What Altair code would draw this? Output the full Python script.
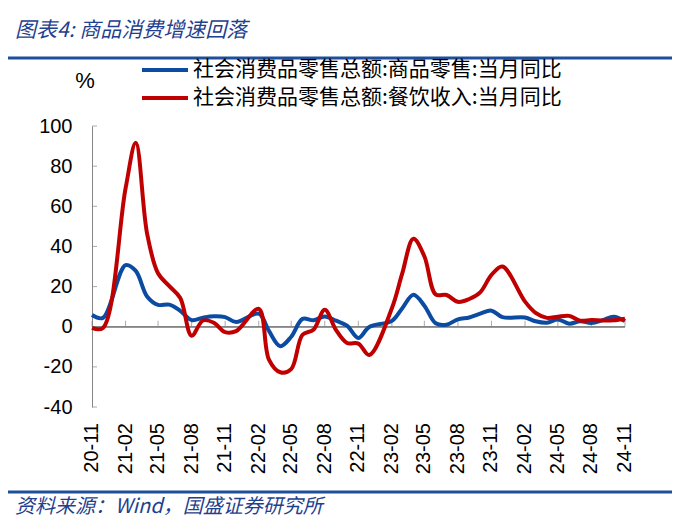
import altair as alt
import pandas as pd

# ---------------- data ----------------
months = [
    "2020-11", "2020-12",
    "2021-02", "2021-03", "2021-04", "2021-05", "2021-06", "2021-07", "2021-08", "2021-09", "2021-10", "2021-11", "2021-12",
    "2022-02", "2022-03", "2022-04", "2022-05", "2022-06", "2022-07", "2022-08", "2022-09", "2022-10", "2022-11", "2022-12",
    "2023-02", "2023-03", "2023-04", "2023-05", "2023-06", "2023-07", "2023-08", "2023-09", "2023-10", "2023-11", "2023-12",
    "2024-02", "2024-03", "2024-04", "2024-05", "2024-06", "2024-07", "2024-08", "2024-09", "2024-10", "2024-11",
]
goods = [
    5.8, 4.4,
    30.7, 27.8, 15.1, 10.9, 11.0, 7.9, 3.3, 4.5, 5.2, 4.8, 2.3,
    6.5, -2.1, -9.7, -5.0, 3.9, 3.2, 5.1, 3.0, 0.5, -5.6, -0.1,
    2.9, 9.1, 15.9, 10.5, 1.7, 1.0, 3.7, 4.6, 6.5, 8.0, 4.8,
    4.6, 2.7, 2.0, 3.6, 1.5, 2.7, 1.9, 3.3, 5.0, 2.8,
]
catering = [
    -0.6, -0.6,
    68.9, 91.6, 46.4, 26.6, 20.2, 14.3, -4.5, 3.1, 2.0, -2.7, -2.2,
    8.9, -16.4, -22.7, -21.1, -4.0, -1.5, 8.4, -1.7, -8.1, -8.4, -14.1,
    9.2, 26.3, 43.8, 35.1, 16.1, 15.8, 12.4, 13.8, 17.1, 25.8, 30.0,
    12.5, 6.9, 4.4, 5.0, 5.4, 3.0, 3.3, 3.1, 3.2, 4.0,
]
series_names = ["社会消费品零售总额:商品零售:当月同比", "社会消费品零售总额:餐饮收入:当月同比"]
series_colors = ["#0B4CA2", "#C00000"]
x_tick_labels = ["20-11", "21-02", "21-05", "21-08", "21-11", "22-02", "22-05", "22-08", "22-11",
                 "23-02", "23-05", "23-08", "23-11", "24-02", "24-05", "24-08", "24-11"]
y_ticks = [-40, -20, 0, 20, 40, 60, 80, 100]
title_text = "图表4:  商品消费增速回落"
source_text = "资料来源：Wind，国盛证券研究所"
unit_text = "%"

# ---------------- tables ----------------
dates = pd.to_datetime(months, format="%Y-%m")
df = pd.concat([
    pd.DataFrame({"date": dates, "series": series_names[0], "value": goods}),
    pd.DataFrame({"date": dates, "series": series_names[1], "value": catering}),
])

def to_dt(lbl):
    y, m = lbl.split("-")
    return alt.DateTime(year=2000 + int(y), month=int(m), date=1)

tick_df = pd.DataFrame({
    "date": pd.to_datetime(["20" + l for l in x_tick_labels], format="%Y-%m"),
    "label": x_tick_labels,
})
ytick_df = pd.DataFrame({"v": y_ticks})

W, H = 533, 281
GRAY = "#868686"
NAVY = "#1F3F8F"
LINEBLUE = "#1F4E9B"
AX_FONT = "Liberation Sans"
CJK = "Noto Sans CJK SC"

x_scale = alt.Scale(domain=[to_dt(x_tick_labels[0]), to_dt(x_tick_labels[-1])], nice=False)
y_scale = alt.Scale(domain=[y_ticks[0], y_ticks[-1]], nice=False, zero=False)
y_axis = alt.Axis(values=y_ticks, domainColor=GRAY, domainWidth=1, ticks=False, tickSize=0,
                  labelPadding=20, grid=False, title=None, labelFont=AX_FONT,
                  labelFontSize=20, labelColor="#000000",
                  labelExpr="toString(datum.value)")

lines = alt.Chart(df).mark_line(strokeWidth=4, interpolate="catmull-rom").encode(
    x=alt.X("date:T", scale=x_scale, axis=None),
    y=alt.Y("value:Q", scale=y_scale, axis=y_axis),
    color=alt.Color("series:N", scale=alt.Scale(domain=series_names, range=series_colors), legend=None),
)

zero_line = alt.Chart(ytick_df).mark_rule(color=GRAY, strokeWidth=1).encode(
    y=alt.datum(0), x=alt.value(0), x2=alt.value(W)
)
x_ticks = alt.Chart(tick_df).mark_tick(orient="vertical", size=6, thickness=1, yOffset=-3, color=GRAY).encode(
    x=alt.X("date:T", scale=x_scale, axis=None), y=alt.datum(0)
)
x_labels = alt.Chart(tick_df).mark_text(angle=270, align="right", baseline="middle", font=AX_FONT,
                                        fontSize=20, color="#000000").encode(
    x=alt.X("date:T", scale=x_scale, axis=None), y=alt.value(H + 16), text="label:N"
)
y_tick_marks = alt.Chart(ytick_df).mark_tick(orient="horizontal", size=5, thickness=1, xOffset=2.5, color=GRAY).encode(
    y=alt.Y("v:Q", scale=y_scale, axis=y_axis), x=alt.value(0)
)

def text_layer(txt, x, y, **kw):
    return alt.Chart(pd.DataFrame({"t": [txt]})).mark_text(**kw).encode(
        text="t:N", x=alt.value(x), y=alt.value(y)
    )

def rule_layer(x, x2, y, color, width):
    return alt.Chart(pd.DataFrame({"a": [0]})).mark_rule(color=color, strokeWidth=width).encode(
        x=alt.value(x), x2=alt.value(x2), y=alt.value(y)
    )

title = text_layer(title_text, -77, -95, align="left", baseline="middle", font=CJK,
                   fontSize=21, fontStyle="italic", color=NAVY)
top_rule = rule_layer(-92, 580, -68, LINEBLUE, 3)
bottom_rule = rule_layer(-92, 580, 366, LINEBLUE, 3)
source = text_layer(source_text, -77, 381, align="left", baseline="middle", font=CJK,
                    fontSize=20, fontStyle="italic", color=NAVY)
unit = text_layer(unit_text, -7, -45, align="center", baseline="middle", font=AX_FONT,
                  fontSize=22, color="#000000")

leg1_line = rule_layer(50, 96, -56, series_colors[0], 4)
leg2_line = rule_layer(50, 96, -28, series_colors[1], 4)
leg1_text = text_layer(series_names[0], 101, -56, align="left", baseline="middle", font=CJK,
                       fontSize=21, color="#000000")
leg2_text = text_layer(series_names[1], 101, -28, align="left", baseline="middle", font=CJK,
                       fontSize=21, color="#000000")

chart = alt.layer(
    zero_line, x_ticks, y_tick_marks, lines, x_labels,
    title, top_rule, bottom_rule, source, unit,
    leg1_line, leg2_line, leg1_text, leg2_text,
).properties(
    width=W, height=H,
    autosize=alt.AutoSizeParams(type="none"),
    padding={"left": 84, "top": 118, "right": 67, "bottom": 111},
    background="white",
).configure_view(stroke=None)

chart.save("out.html", embed_options={"renderer": "svg", "actions": False})
